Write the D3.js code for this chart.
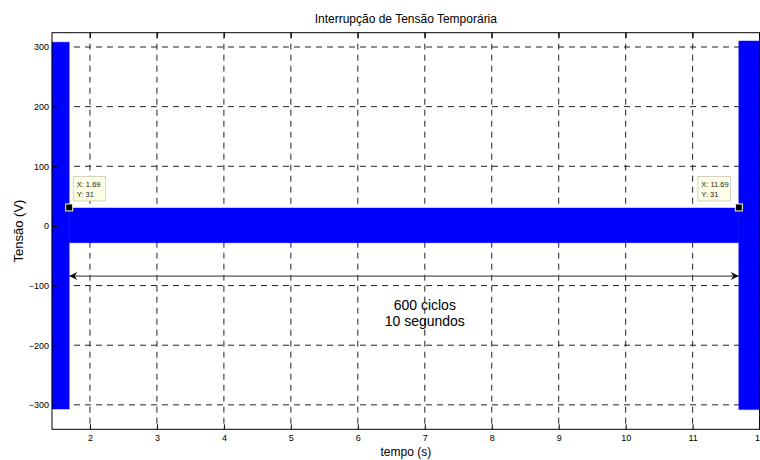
<!DOCTYPE html>
<html>
<head>
<meta charset="utf-8">
<script src="https://cdn.jsdelivr.net/npm/d3@7/dist/d3.min.js"></script>
<style>
  html, body { margin: 0; padding: 0; background: #fff; }
  svg { display: block; font-family: "Liberation Sans", Arial, sans-serif; }
</style>
</head>
<body>
<svg id="chart" width="760" height="460"></svg>
<script>
// ---- Data ----
const titleText = "Interrupção de Tensão Temporária";
const xLabel = "tempo (s)";
const yLabel = "Tensão (V)";
const xDomain = [1.433, 12];
const yDomain = [-341, 324];
const xTicks = [2, 3, 4, 5, 6, 7, 8, 9, 10, 11, 12];
const yTicks = [-300, -200, -100, 0, 100, 200, 300];

// Envelope of the voltage waveform: segment start/end (s), positive peak, negative peak (V)
const segStart  = [1.433, 1.69, 11.69];
const segEnd    = [1.69, 11.69, 12.0];
const segPeak   = [308, 30, 310];
const segTrough = [-307, -28, -308];

// Data tips
const tipX = [1.69, 11.69];
const tipY = [31, 31];

// Annotation
const arrowFrom = 1.69, arrowTo = 11.69, arrowY = -84;
const annotLines = ["600 ciclos", "10 segundos"];
const annotX = 7.0;

// ---- Layout ----
const svg = d3.select("#chart");
const L = 52, R = 759.6, T = 32.7, B = 429.3;
const x = d3.scaleLinear().domain(xDomain).range([L, R]);
const y = d3.scaleLinear().domain(yDomain).range([B, T]);

// Grid
const grid = svg.append("g");
grid.selectAll("line.vg").data(xTicks).join("line")
  .attr("x1", d => x(d)).attr("x2", d => x(d))
  .attr("y1", T).attr("y2", B)
  .attr("stroke", "#222").attr("stroke-width", 1).attr("stroke-dasharray", "6,5");
grid.selectAll("line.hg").data(yTicks).join("line")
  .attr("x1", L).attr("x2", R)
  .attr("y1", d => y(d)).attr("y2", d => y(d))
  .attr("stroke", "#222").attr("stroke-width", 1).attr("stroke-dasharray", "6,5");

// Waveform envelope
const segs = segStart.map((s, i) => ({ s, e: segEnd[i], p: segPeak[i], t: segTrough[i] }));
const area = d3.area().x(d => x(d[0])).y0(d => y(d[2])).y1(d => y(d[1]));
svg.append("g").selectAll("path").data(segs).join("path")
  .attr("d", d => area([[d.s, d.p, d.t], [d.e, d.p, d.t]]))
  .attr("fill", "#0000ff").attr("stroke", "#0000ff").attr("stroke-width", 0.5);

// Axes box
svg.append("rect").attr("x", L).attr("y", T).attr("width", R - L).attr("height", B - T)
  .attr("fill", "none").attr("stroke", "#000").attr("stroke-width", 1);

// Bottom axis
const xAxis = d3.axisBottom(x).tickValues(xTicks).tickFormat(d3.format("d"))
  .tickSizeInner(-5).tickSizeOuter(0).tickPadding(5);
const gx = svg.append("g").attr("transform", `translate(0,${B})`).call(xAxis);
gx.select(".domain").remove();
gx.selectAll("text").attr("font-size", 9).attr("fill", "#000")
  .attr("font-family", "Liberation Sans, Arial, sans-serif");
// Top ticks
const xAxisTop = d3.axisTop(x).tickValues(xTicks).tickFormat("").tickSizeInner(-5).tickSizeOuter(0);
const gxt = svg.append("g").attr("transform", `translate(0,${T})`).call(xAxisTop);
gxt.select(".domain").remove();

// Left axis
const yAxis = d3.axisLeft(y).tickValues(yTicks).tickFormat(d3.format("d"))
  .tickSizeInner(-5).tickSizeOuter(0).tickPadding(3);
const gy = svg.append("g").attr("transform", `translate(${L},0)`).call(yAxis);
gy.select(".domain").remove();
gy.selectAll("text").attr("font-size", 9).attr("fill", "#000")
  .attr("font-family", "Liberation Sans, Arial, sans-serif");

// Title and labels
svg.append("text").attr("x", (L + R) / 2).attr("y", 23).attr("text-anchor", "middle")
  .attr("font-size", 12).text(titleText);
svg.append("text").attr("x", (L + R) / 2).attr("y", 456).attr("text-anchor", "middle")
  .attr("font-size", 12).text(xLabel);
svg.append("text").attr("transform", `translate(23,${(T + B) / 2}) rotate(-90)`)
  .attr("text-anchor", "middle").attr("font-size", 13).text(yLabel);

// Arrow annotation
const defs = svg.append("defs");
defs.append("marker").attr("id", "ah").attr("viewBox", "0 0 10 10")
  .attr("refX", 10).attr("refY", 5).attr("markerWidth", 10).attr("markerHeight", 8)
  .attr("markerUnits", "userSpaceOnUse").attr("orient", "auto-start-reverse")
  .append("path").attr("d", "M0,0 L10,5 L0,10 L3,5 Z").attr("fill", "#111");
svg.append("line")
  .attr("x1", x(arrowFrom)).attr("x2", x(arrowTo))
  .attr("y1", y(arrowY)).attr("y2", y(arrowY))
  .attr("stroke", "#555").attr("stroke-width", 1.2)
  .attr("marker-start", "url(#ah)").attr("marker-end", "url(#ah)");

svg.append("g").selectAll("text").data(annotLines).join("text")
  .attr("x", x(annotX)).attr("y", (d, i) => 310 + i * 16)
  .attr("text-anchor", "middle").attr("font-size", 14).attr("fill", "#000")
  .text(d => d);

// Data tips
const tips = tipX.map((v, i) => ({ x: v, y: tipY[i], left: i === 0 }));
const tg = svg.append("g").selectAll("g").data(tips).join("g");
tg.append("rect")
  .attr("x", d => d.left ? x(d.x) + 4 : x(d.x) - 41)
  .attr("y", d => y(d.y) - 31).attr("width", 32.5).attr("height", 24.5)
  .attr("fill", "#ffffe6").attr("stroke", "#c8c8b4").attr("stroke-width", 0.8);
tg.append("text")
  .attr("x", d => (d.left ? x(d.x) + 4 : x(d.x) - 41) + 3.5)
  .attr("y", d => y(d.y) - 20.5).attr("font-size", 7.5).attr("fill", "#222")
  .text(d => "X: " + d.x);
tg.append("text")
  .attr("x", d => (d.left ? x(d.x) + 4 : x(d.x) - 41) + 3.5)
  .attr("y", d => y(d.y) - 10.5).attr("font-size", 7.5).attr("fill", "#222")
  .text(d => "Y: " + d.y);
tg.append("rect")
  .attr("x", d => x(d.x) - 3.5).attr("y", d => y(d.y) - 3.5)
  .attr("width", 7).attr("height", 7)
  .attr("fill", "#000").attr("stroke", "#ffffe6").attr("stroke-width", 1);
</script>
</body>
</html>
